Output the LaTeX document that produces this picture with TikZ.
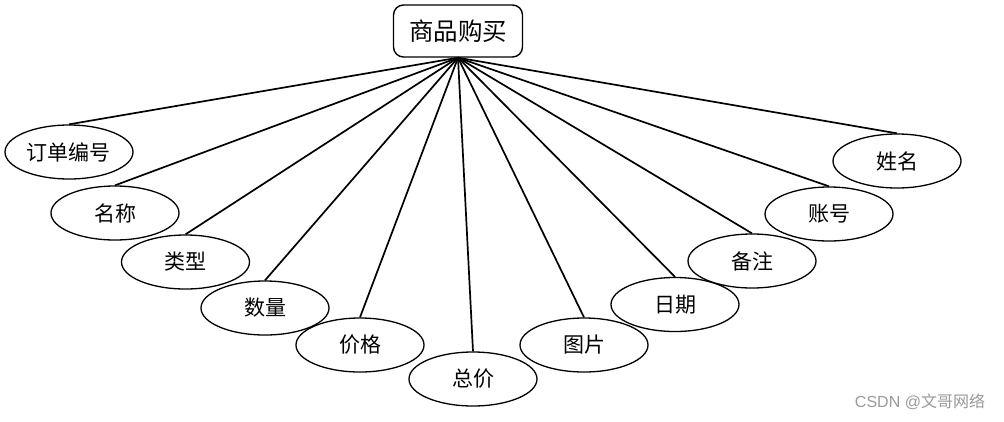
\documentclass[tikz,border=0pt]{standalone}
\usepackage{fontspec}
\newfontfamily\cjk{Noto Sans CJK SC}
\setsansfont{Liberation Sans}
\usetikzlibrary{shapes.geometric}
\begin{document}
\begin{tikzpicture}[x=1pt,y=-1pt,
  root/.style={draw,line width=1.4pt,rounded corners=10pt,minimum width=129pt,minimum height=52pt,inner sep=0pt,font=\cjk\fontsize{24.5}{28}\selectfont},
  attr/.style={draw,ellipse,line width=1.3pt,minimum width=128pt,minimum height=54pt,inner sep=0pt,font=\cjk\fontsize{21}{24}\selectfont},
  link/.style={line width=1.7pt}]
\useasboundingbox (0,0) rectangle (1004,421);
\node[root] (r) at (458,31) {商品购买};
\node[attr] (a1) at (69,152) {订单编号};
\node[attr] (a2) at (115,213) {名称};
\node[attr] (a3) at (185.5,262) {类型};
\node[attr] (a4) at (265,308) {数量};
\node[attr] (a5) at (360,345) {价格};
\node[attr] (a6) at (473,379) {总价};
\node[attr] (a7) at (584,345) {图片};
\node[attr] (a8) at (675,304.5) {日期};
\node[attr] (a9) at (752,261) {备注};
\node[attr] (a10) at (829,214) {账号};
\node[attr] (a11) at (897,161) {姓名};
\foreach \i in {1,...,11} \draw[link] (r.south) -- (a\i.north);
\node[text=black!40,font=\sffamily\fontsize{16}{18}\selectfont,anchor=center] (wm) at (920,402) {CSDN @{\cjk 文哥网络}};
\end{tikzpicture}
\end{document}
